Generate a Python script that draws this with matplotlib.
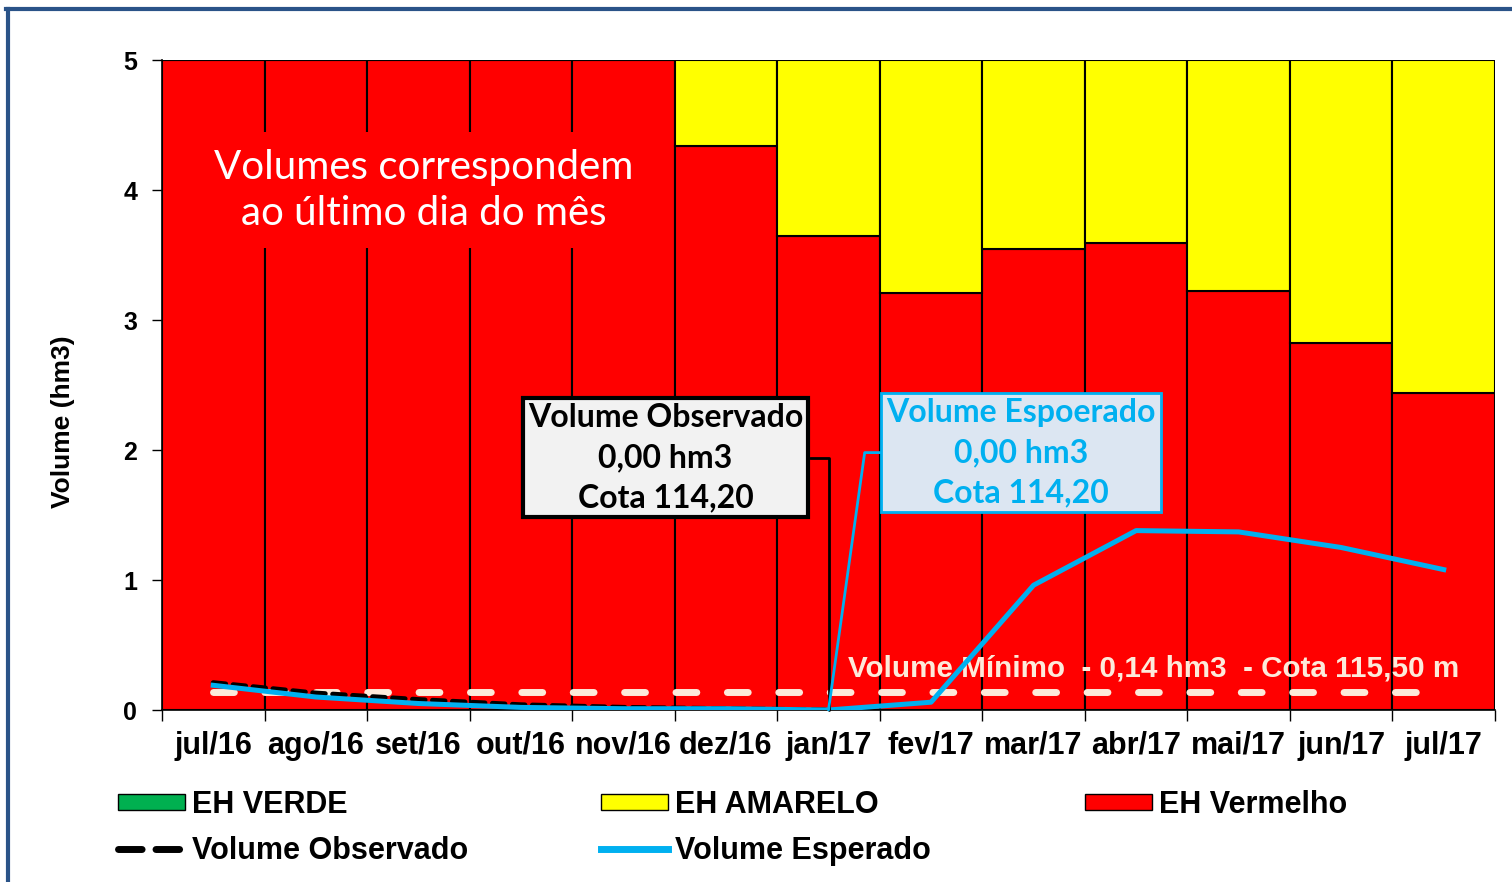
import matplotlib
matplotlib.use("Agg")
import matplotlib.pyplot as plt
import numpy as np
from matplotlib.lines import Line2D
from matplotlib.patches import Patch

# dados (volumes em hm3, último dia do mês)
meses = ['jul/16', 'ago/16', 'set/16', 'out/16', 'nov/16', 'dez/16', 'jan/17',
         'fev/17', 'mar/17', 'abr/17', 'mai/17', 'jun/17', 'jul/17']
eh_verde = [0, 0, 0, 0, 0, 0, 0, 0, 0, 0, 0, 0, 0]
eh_vermelho = [5, 5, 5, 5, 5, 4.34, 3.65, 3.21, 3.55, 3.59, 3.22, 2.82, 2.44]
eh_amarelo = [0, 0, 0, 0, 0, 0.66, 1.35, 1.79, 1.45, 1.41, 1.78, 2.18, 2.56]
vol_esperado = [0.19, 0.10, 0.05, 0.02, 0.01, 0.01, 0.00, 0.06, 0.96, 1.38, 1.37, 1.25, 1.08]
vol_observado = [0.21, 0.13, 0.08, 0.04, 0.02, 0.01, 0.00] + [np.nan] * 6
vol_minimo = [0.14] * 13

VERDE = '#00B050'
AMARELO = '#FFFF00'
VERMELHO = '#FF0000'
AZUL = '#00B0F0'
CREME = '#FDEADA'

x = np.arange(len(meses))

fig = plt.figure(figsize=(15.12, 8.82), dpi=100)
ax = fig.add_axes([162 / 1512, 1 - 710 / 882, (1495 - 162) / 1512, 650 / 882])

# barras empilhadas
ax.bar(x, eh_verde, width=1, color=VERDE, edgecolor='black', linewidth=1.5)
ax.bar(x, eh_vermelho, width=1, bottom=eh_verde, color=VERMELHO, edgecolor='black', linewidth=1.5)
ax.bar(x, eh_amarelo, width=1, bottom=np.array(eh_verde) + np.array(eh_vermelho),
       color=AMARELO, edgecolor='black', linewidth=1.5)

# volume minimo
ax.plot(x, vol_minimo, color=CREME, lw=5, dashes=(3.0, 4.4), dash_capstyle='round', zorder=3)
ax.text(6.19, 0.32, 'Volume Mínimo  - 0,14 hm3  - Cota 115,50 m', color=CREME,
        fontsize=21.3, fontweight='bold', family='Liberation Sans', va='center', ha='left', zorder=4)

# linhas
ax.plot(x, vol_observado, color='black', lw=3.6, dashes=(2.5, 1.5), dash_capstyle='round', zorder=4)
ax.plot(x, vol_esperado, color=AZUL, lw=3.6, zorder=5)

# caixas de texto
ax.text(2.05, 4.0, 'Volumes correspondem\nao último dia do mês', color='white',
        fontsize=29, family='Lato', ha='center', va='center', linespacing=1.3,
        bbox=dict(facecolor=VERMELHO, edgecolor='none', pad=12), zorder=3)

ax.annotate('Volume Observado\n0,00 hm3\nCota 114,20', xy=(6, vol_observado[6]), xytext=(4.41, 1.94),
            fontsize=23, fontweight='bold', family='Lato', ha='center', va='center',
            linespacing=1.46, color='black',
            bbox=dict(boxstyle='square,pad=0.16', facecolor='#F2F2F2', edgecolor='black', lw=3),
            arrowprops=dict(arrowstyle='-', color='black', lw=2, shrinkA=0, shrinkB=0,
                            connectionstyle='angle,angleA=0,angleB=90,rad=0'),
            zorder=6)

ax.annotate('Volume Espoerado\n0,00 hm3\nCota 114,20', xy=(6, vol_esperado[6]), xytext=(7.88, 1.98),
            fontsize=23, fontweight='bold', family='Lato', ha='center', va='center',
            linespacing=1.46, color=AZUL,
            bbox=dict(boxstyle='square,pad=0.16', facecolor='#DCE6F2', edgecolor=AZUL, lw=2),
            arrowprops=dict(arrowstyle='-', color=AZUL, lw=2, shrinkA=0, shrinkB=0,
                            connectionstyle='angle,angleA=0,angleB=82,rad=0'),
            zorder=6)

# eixos
ax.set_xlim(-0.5, len(meses) - 0.5)
ax.set_ylim(0, 5)
ax.set_yticks(range(6))
ax.set_yticklabels([str(v) for v in range(6)], fontsize=18, fontweight='bold', family='Liberation Sans')
ax.tick_params(axis='y', direction='out', length=7, width=1, pad=11)
ax.set_xticks(np.arange(-0.5, len(meses), 1))
ax.set_xticklabels([])
ax.set_xticks(x, minor=True)
ax.set_xticklabels(meses, minor=True, fontsize=22, fontweight='bold', family='Liberation Sans')
ax.tick_params(axis='x', which='major', direction='out', length=8, width=1)
ax.tick_params(axis='x', which='minor', length=0, pad=15)
for s in ['top', 'right']:
    ax.spines[s].set_visible(False)
ax.spines['left'].set_linewidth(1.2)
ax.spines['bottom'].set_linewidth(1.2)
ax.set_ylabel('Volume (hm3)', fontsize=19, fontweight='bold', family='Liberation Sans')
ax.yaxis.set_label_coords(-0.0655, 0.443)

# legenda: uma coluna por legenda
leg_kw = dict(loc='upper left', frameon=False, borderpad=0, borderaxespad=0,
              prop=dict(family='Liberation Sans', weight='bold', size=22),
              handlelength=2.2, handleheight=0.42, handletextpad=0.23, labelspacing=0.52)
colunas = [
    ([Patch(facecolor=VERDE, edgecolor='black', lw=1),
      Line2D([], [], color='black', lw=5, dashes=(3.4, 2.0), dash_capstyle='round')],
     ['EH VERDE', 'Volume Observado'], 118),
    ([Patch(facecolor=AMARELO, edgecolor='black', lw=1),
      Line2D([], [], color=AZUL, lw=5)],
     ['EH AMARELO', 'Volume Esperado'], 601),
    ([Patch(facecolor=VERMELHO, edgecolor='black', lw=1)],
     ['EH Vermelho'], 1085),
]
for hs, ls, x0 in colunas:
    fig.legend(hs, ls, bbox_to_anchor=(x0 / 1512, 1 - 790 / 882), **leg_kw)

# moldura
fig.add_artist(Line2D([0.005, 0.005], [0, 0.99], transform=fig.transFigure, color='#2A5388', lw=3))
fig.add_artist(Line2D([0.004, 1], [0.99, 0.99], transform=fig.transFigure, color='#2A5388', lw=3))

fig.savefig('out.png', dpi=100)
